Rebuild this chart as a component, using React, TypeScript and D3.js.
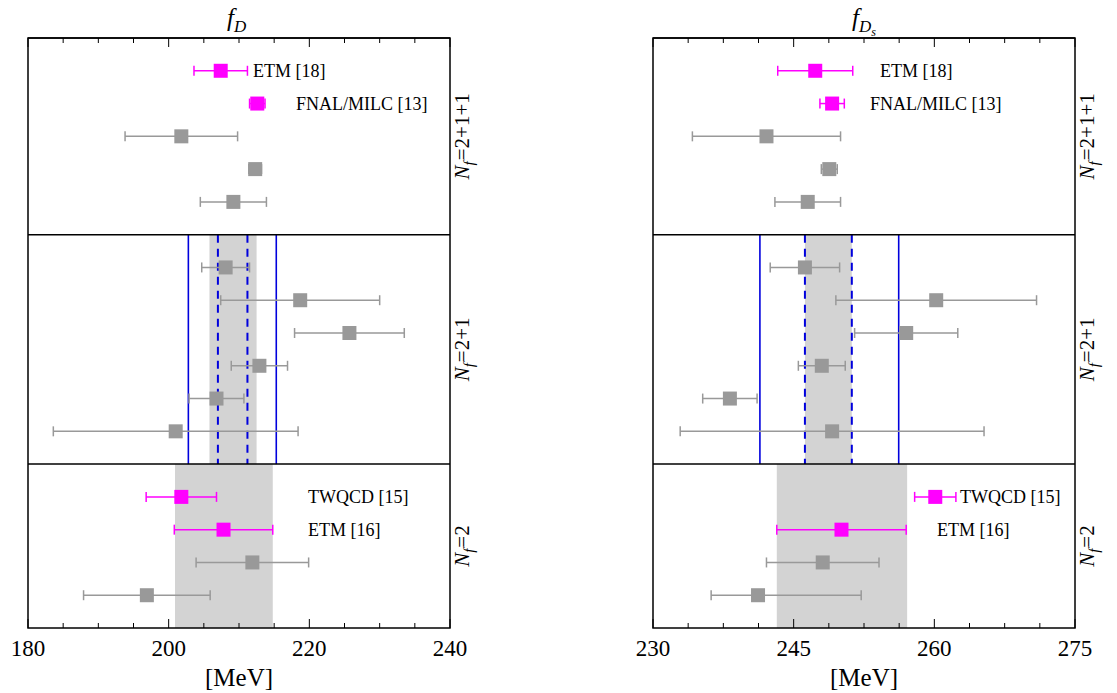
import React from 'react'
import * as d3 from 'd3'

type Pt = { row: number; v: number; e: number; eHi?: number; mag?: boolean; label?: string }

const fdPoints: Pt[] = [
  { row: 0, v: 207.4, e: 3.8, mag: true, label: 'ETM [18]' },
  { row: 1, v: 212.6, e: 1.1, mag: true, label: 'FNAL/MILC [13]' },
  { row: 2, v: 201.8, e: 8.0 },
  { row: 3, v: 212.3, e: 0.9 },
  { row: 4, v: 209.2, e: 4.7 },
  { row: 6, v: 208.1, e: 3.4 },
  { row: 7, v: 218.7, e: 11.3 },
  { row: 8, v: 225.7, e: 7.8 },
  { row: 9, v: 212.9, e: 4.0 },
  { row: 10, v: 206.8, e: 3.9 },
  { row: 11, v: 201.0, e: 17.4 },
  { row: 13, v: 201.8, e: 5.0, mag: true, label: 'TWQCD [15]' },
  { row: 14, v: 207.8, e: 7.0, mag: true, label: 'ETM [16]' },
  { row: 15, v: 211.9, e: 8.0 },
  { row: 16, v: 196.9, e: 9.0 },
]
const fdsPoints: Pt[] = [
  { row: 0, v: 247.3, e: 4.0, mag: true, label: 'ETM [18]' },
  { row: 1, v: 249.1, e: 1.3, mag: true, label: 'FNAL/MILC [13]' },
  { row: 2, v: 242.1, e: 7.9 },
  { row: 3, v: 248.8, e: 0.85 },
  { row: 4, v: 246.5, e: 3.5 },
  { row: 6, v: 246.2, e: 3.7 },
  { row: 7, v: 260.2, e: 10.7 },
  { row: 8, v: 257.0, e: 5.5 },
  { row: 9, v: 248.0, e: 2.5 },
  { row: 10, v: 238.2, e: 2.9 },
  { row: 11, v: 249.1, e: 16.2 },
  { row: 13, v: 260.1, e: 2.2, mag: true, label: 'TWQCD [15]' },
  { row: 14, v: 250.1, e: 6.9, mag: true, label: 'ETM [16]' },
  { row: 15, v: 248.1, e: 6.0 },
  { row: 16, v: 241.2, e: 5.0, eHi: 11.0 },
]
const sections = ['N_f=2+1+1', 'N_f=2+1', 'N_f=2']
const sectionRows = [[-1, 5], [5, 12], [12, 17]]

type PanelCfg = {
  left: number; domain: [number, number]; ticks: number[]; pts: Pt[]
  band21: [number, number]; dash21: [number, number]; solid21: [number, number]; band2: [number, number]
  labelX: number[]; title: string; sub: string
}
const fdCfg: PanelCfg = {
  left: 28, domain: [180, 240], ticks: [180, 200, 220, 240], pts: fdPoints,
  band21: [205.8, 212.5], dash21: [207.0, 211.2], solid21: [202.8, 215.3], band2: [200.9, 214.8],
  labelX: [253, 296, 308, 308], title: 'f', sub: 'D',
}
const fdsCfg: PanelCfg = {
  left: 653, domain: [230, 275], ticks: [230, 245, 260, 275], pts: fdsPoints,
  band21: [246.2, 251.2], dash21: [246.2, 251.2], solid21: [241.4, 256.2], band2: [243.2, 257.1],
  labelX: [880, 870, 960, 937], title: 'f', sub: 'D',
}

const W = 422
const y = d3.scaleLinear().domain([-1, 17]).range([38, 628])
const font = '"Liberation Serif", "DejaVu Serif", serif'

function Panel({ c, ds }: { c: PanelCfg; ds?: boolean }) {
  const x = d3.scaleLinear().domain(c.domain).range([c.left, c.left + W])
  const minor = d3.range(c.domain[0], c.domain[1] + 0.001, (c.ticks[1] - c.ticks[0]) / 4)
  const labeled = c.pts.filter(p => p.label)
  return (
    <g fontFamily={font}>
      <rect x={x(c.band21[0])} y={y(5)} width={x(c.band21[1]) - x(c.band21[0])} height={y(12) - y(5)} fill="#d3d3d3" />
      <rect x={x(c.band2[0])} y={y(12)} width={x(c.band2[1]) - x(c.band2[0])} height={y(17) - y(12)} fill="#d3d3d3" />
      {c.solid21.map((v, i) => <line key={'s' + i} x1={x(v)} x2={x(v)} y1={y(5)} y2={y(12)} stroke="#0000dd" strokeWidth={1.6} />)}
      {c.dash21.map((v, i) => <line key={'d' + i} x1={x(v)} x2={x(v)} y1={y(5)} y2={y(12)} stroke="#0000dd" strokeWidth={2} strokeDasharray="8,6" />)}
      {c.pts.map((p, i) => {
        const col = p.mag ? '#ff00ff' : '#999999'
        const cy = y(p.row)
        const lo = x(p.v - p.e)
        const hi = x(p.v + (p.eHi ?? p.e))
        return (
          <g key={i}>
            <line x1={lo} x2={hi} y1={cy} y2={cy} stroke={col} strokeWidth={1.5} />
            <line x1={lo} x2={lo} y1={cy - 5} y2={cy + 5} stroke={col} strokeWidth={1.5} />
            <line x1={hi} x2={hi} y1={cy - 5} y2={cy + 5} stroke={col} strokeWidth={1.5} />
            <rect x={x(p.v) - 7} y={cy - 7} width={14} height={14} fill={col} />
          </g>
        )
      })}
      {labeled.map((p, i) => (
        <text key={'l' + i} x={c.labelX[i]} y={y(p.row) + 6} fontSize={18}>{p.label}</text>
      ))}
      {sectionRows.map((r, i) => (
        <line key={'sep' + i} x1={c.left} x2={c.left + W} y1={y(r[0])} y2={y(r[0])} stroke="#000" strokeWidth={1.5} />
      ))}
      <rect x={c.left} y={y(-1)} width={W} height={y(17) - y(-1)} fill="none" stroke="#000" strokeWidth={1.5} />
      {minor.map((t, i) => {
        const major = c.ticks.some(m => Math.abs(m - t) < 1e-6)
        const l = major ? 9 : 5
        return (
          <g key={'t' + i}>
            <line x1={x(t)} x2={x(t)} y1={y(17)} y2={y(17) - l} stroke="#000" />
            <line x1={x(t)} x2={x(t)} y1={y(-1)} y2={y(-1) + l} stroke="#000" />
          </g>
        )
      })}
      {c.ticks.map(t => (
        <text key={'tl' + t} x={x(t)} y={656} fontSize={23} textAnchor="middle">{t}</text>
      ))}
      <text x={c.left + W / 2} y={686} fontSize={25} textAnchor="middle">[MeV]</text>
      <text x={c.left + W / 2 - 12} y={26} fontSize={25} fontStyle="italic">
        {c.title}
        <tspan fontSize={17} dy={6}>{c.sub}</tspan>
        {ds && <tspan fontSize={12} dy={4}>s</tspan>}
      </text>
      {sections.map((s, i) => {
        const cy = (y(sectionRows[i][0]) + y(sectionRows[i][1])) / 2
        const [, rest] = s.split('=')
        return (
          <text key={'sec' + i} transform={`translate(${c.left + W + 19},${cy}) rotate(-90)`} fontSize={21} textAnchor="middle">
            <tspan fontStyle="italic">N</tspan><tspan fontStyle="italic" fontSize={15} dy={5}>f</tspan>
            <tspan dy={-5} dx={1}>={rest}</tspan>
          </text>
        )
      })}
    </g>
  )
}

export default function App() {
  return (
    <svg width={1117} height={693} style={{ position: 'absolute', left: 0, top: 0, background: '#fff' }}>
      <Panel c={fdCfg} />
      <Panel c={fdsCfg} ds />
    </svg>
  )
}
